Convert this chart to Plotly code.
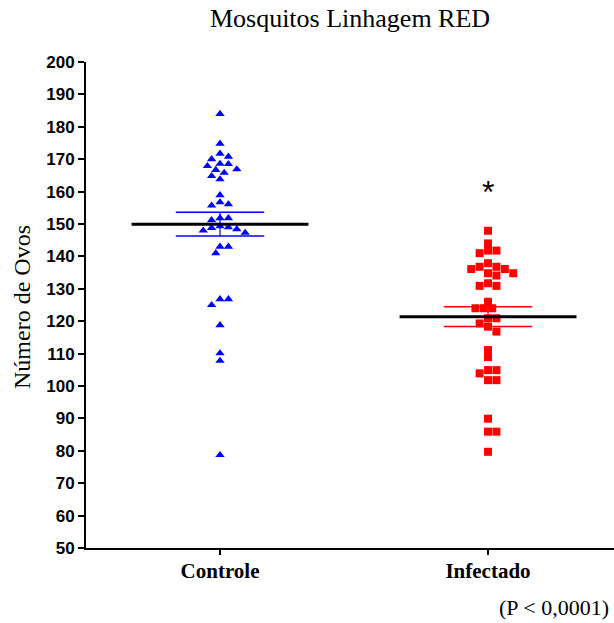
import numpy as np
import plotly.graph_objects as go

# ---- data ---------------------------------------------------------------
groups = ["Controle", "Infectado"]

controle_ovos = [
    184.0, 174.8, 171.7, 170.8, 170.0, 168.6, 168.5, 167.9, 166.9, 166.7,
    165.8, 164.8, 163.8, 158.9, 156.7, 156.1, 155.7, 151.8, 151.8, 151.2,
    149.3, 149.0, 148.8, 148.4, 148.0, 147.3, 143.0, 143.0, 141.0, 126.8,
    126.8, 125.0, 118.8, 110.1, 107.8, 78.7,
]

infectado_ovos = [
    147.9, 144.0, 141.8, 141.8, 141.0, 137.9, 136.8, 136.8, 136.1, 136.1,
    134.8, 134.8, 134.1, 131.7, 130.9, 130.9, 126.0, 124.0, 124.0, 124.0,
    120.9, 120.9, 119.3, 118.3, 116.8, 111.1, 108.9, 104.9, 104.9, 103.9,
    101.8, 101.8, 89.9, 85.9, 85.9, 79.7,
]

y_ticks = list(range(50, 201, 10))

# ---- layout geometry ----------------------------------------------------
W, H = 614, 623
M_L, M_R, M_T, M_B = 86, 0, 62, 75
X_RANGE = (-0.5, 1.47)
Y_RANGE = (50, 200)
PX_X = (W - M_L - M_R) / (X_RANGE[1] - X_RANGE[0])
PX_Y = (H - M_T - M_B) / (Y_RANGE[1] - Y_RANGE[0])


def swarm_offsets(values, mark_w, mark_h):
    """Greedy beeswarm on a half-marker grid; returns x offsets in data units."""
    vals = np.asarray(values, dtype=float)
    order = np.argsort(-vals, kind="stable")
    cand = [0.0]
    for k in range(1, 40):
        cand += [-k * mark_w / 2, k * mark_w / 2] if k % 2 else [k * mark_w / 2, -k * mark_w / 2]
    placed = []
    offs = np.zeros(len(vals))
    for i in order:
        yi = vals[i] * PX_Y
        for c in cand:
            if all(((c - ox) / mark_w) ** 2 + ((yi - oy) / mark_h) ** 2 >= 1 for ox, oy in placed):
                break
        placed.append((c, yi))
        offs[i] = c / PX_X
    return offs


series = [
    (controle_ovos, "#0000FF", "triangle-up", 8.2),
    (infectado_ovos, "#FF0000", "square", 8.0),
]

fig = go.Figure()

for gi, (vals, color, symbol, size) in enumerate(series):
    offs = swarm_offsets(vals, 8.4, 7.0)
    fig.add_trace(go.Scatter(
        x=gi + offs, y=vals, mode="markers",
        marker=dict(symbol=symbol, size=size, color=color, line=dict(width=0)),
        hoverinfo="skip", showlegend=False,
    ))

# mean and SEM bars
for gi, (vals, color, _, _) in enumerate(series):
    v = np.asarray(vals, dtype=float)
    mean = v.mean()
    sem = v.std(ddof=1) / np.sqrt(len(v))
    for yv in (mean - sem, mean + sem):
        fig.add_trace(go.Scatter(
            x=[gi - 0.165, gi + 0.165], y=[yv, yv], mode="lines",
            line=dict(color=color, width=1.5), hoverinfo="skip", showlegend=False,
        ))
    fig.add_trace(go.Scatter(
        x=[gi, gi], y=[mean - sem, mean + sem], mode="lines",
        line=dict(color=color, width=1.2), hoverinfo="skip", showlegend=False,
    ))
    fig.add_trace(go.Scatter(
        x=[gi - 0.33, gi + 0.33], y=[mean, mean], mode="lines",
        line=dict(color="black", width=3), hoverinfo="skip", showlegend=False,
    ))

serif = "Liberation Serif, Times New Roman, serif"
sans = "Liberation Sans, Arial, sans-serif"

fig.update_layout(
    width=W, height=H,
    margin=dict(l=M_L, r=M_R, t=M_T, b=M_B),
    plot_bgcolor="white", paper_bgcolor="white",
    title=dict(
        text="Mosquitos Linhagem RED", x=0.5, xref="paper",
        y=1 - 18 / H, yref="container", yanchor="middle", xanchor="center",
        font=dict(family=serif, size=26, color="black"),
    ),
    xaxis=dict(
        range=list(X_RANGE), tickmode="array", tickvals=[0, 1],
        ticktext=[f"<b>{g}</b>" for g in groups],
        tickfont=dict(family=serif, size=21, color="black"),
        ticks="outside", ticklen=5, tickwidth=2, tickcolor="black",
        showline=True, linecolor="black", linewidth=2,
        showgrid=False, zeroline=False, ticklabelstandoff=-2,
    ),
    yaxis=dict(
        range=list(Y_RANGE), tickmode="array", tickvals=y_ticks,
        tickfont=dict(family=sans, size=17, color="black", weight="bold"),
        ticks="outside", ticklen=6, tickwidth=2, tickcolor="black",
        showline=True, linecolor="black", linewidth=2,
        showgrid=False, zeroline=False, ticklabelstandoff=0,
    ),
    annotations=[
        dict(text="Número de Ovos", textangle=-90, xref="paper", yref="paper",
             x=-(M_L - 22) / (W - M_L - M_R), y=(H - M_B - 307) / (H - M_T - M_B),
             xanchor="center", yanchor="middle",
             showarrow=False, font=dict(family=serif, size=24, color="black")),
        dict(text="*", xref="x", yref="y", x=1, y=160.0, showarrow=False,
             xanchor="center", yanchor="middle",
             font=dict(family=sans, size=32, color="black")),
        dict(text="(P < 0,0001)", xref="paper", yref="paper", x=1, xshift=-3,
             y=-(607 - (H - M_B)) / (H - M_T - M_B), xanchor="right", yanchor="middle",
             showarrow=False, font=dict(family=serif, size=22, color="black")),
    ],
)

fig.write_html("out.html")
